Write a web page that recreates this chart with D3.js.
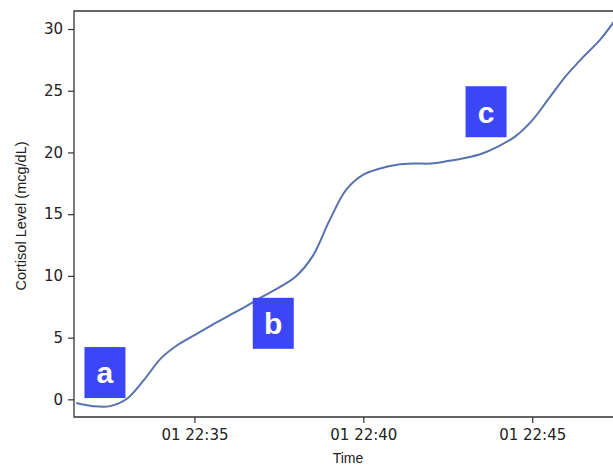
<!DOCTYPE html>
<html>
<head>
<meta charset="utf-8">
<script src="https://cdn.jsdelivr.net/npm/d3@7"></script>
<style>
  html, body { margin: 0; padding: 0; background: #fff; }
  svg { display: block; }
</style>
</head>
<body>
<svg id="chart" width="613" height="467"></svg>
<script>
// ---- data ----
const day = "2024-01-01";
const times = ["22:31:30","22:32:00","22:32:30","22:33:00","22:33:30","22:34:00","22:34:30",
  "22:35:00","22:35:30","22:36:00","22:36:30","22:37:00","22:37:30","22:38:00","22:38:30",
  "22:39:00","22:39:30","22:40:00","22:40:30","22:41:00","22:41:30","22:42:00","22:42:30",
  "22:43:00","22:43:30","22:44:00","22:44:30","22:45:00","22:45:30","22:46:00","22:46:30",
  "22:47:00","22:47:30"];
const cortisol = [-0.3,-0.55,-0.55,0.05,1.55,3.3,4.4,
  5.2,6.0,6.75,7.5,8.3,9.05,9.95,11.6,
  14.5,17.0,18.2,18.7,19.0,19.1,19.1,19.3,
  19.55,19.9,20.5,21.3,22.6,24.4,26.2,27.7,
  29.1,30.9];
const yTicks = [0,5,10,15,20,25,30];
const xTickTimes = ["22:35:00","22:40:00","22:45:00"];
const annoLabels = ["a","b","c"];
const annoTimes = ["22:32:21","22:37:20","22:43:38"];
const annoValues = [2.17,6.16,23.3];
const xDomainTimes = ["22:31:26","22:47:36"];
const yDomain = [-1.43, 31.46];

// ---- setup ----
const parse = d3.utcParse("%Y-%m-%d %H:%M:%S");
const toDate = t => parse(day + " " + t);
const data = times.map((t, i) => ({ t: toDate(t), v: cortisol[i] }));

const svg = d3.select("#chart");
const m = { left: 74, top: 11, right: 620, bottom: 417 };

const x = d3.scaleUtc().domain(xDomainTimes.map(toDate)).range([m.left, m.right]);
const y = d3.scaleLinear().domain(yDomain).range([m.bottom, m.top]);

svg.append("defs").append("clipPath").attr("id", "clip")
  .append("rect").attr("x", m.left).attr("y", m.top)
  .attr("width", m.right - m.left).attr("height", m.bottom - m.top);

const fontTick = "DejaVu Sans, sans-serif";
const axisColor = "#333";

// line
const line = d3.line().x(d => x(d.t)).y(d => y(d.v)).curve(d3.curveCatmullRom.alpha(0.5));
svg.append("path")
  .datum(data)
  .attr("clip-path", "url(#clip)")
  .attr("fill", "none")
  .attr("stroke", "#5872b0")
  .attr("stroke-width", 2)
  .attr("d", line);

// axes
const xAxis = d3.axisBottom(x)
  .tickValues(xTickTimes.map(toDate))
  .tickFormat(d3.utcFormat("%d %H:%M"))
  .tickSizeOuter(0).tickSize(6).tickPadding(6);
const gx = svg.append("g").attr("transform", `translate(0,${m.bottom})`).call(xAxis);

const yAxis = d3.axisLeft(y)
  .tickValues(yTicks)
  .tickSizeOuter(0).tickSize(6).tickPadding(5);
const gy = svg.append("g").attr("transform", `translate(${m.left},0)`).call(yAxis);

[gx, gy].forEach(g => {
  g.select(".domain").remove();
  g.selectAll(".tick line").attr("stroke", axisColor).attr("stroke-width", 1.2);
  g.selectAll(".tick text").attr("fill", "#222")
    .style("font-family", fontTick).style("font-size", "15px");
});

// frame (left, bottom, top)
svg.append("path")
  .attr("d", `M${m.right},${m.top}H${m.left}V${m.bottom}H${m.right}`)
  .attr("fill", "none").attr("stroke", axisColor).attr("stroke-width", 1.3);

// axis labels
svg.append("text")
  .attr("x", 348).attr("y", 463)
  .attr("text-anchor", "middle")
  .style("font-family", "Liberation Sans, Arial, sans-serif").style("font-size", "14px")
  .attr("fill", "#222")
  .text("Time");

svg.append("text")
  .attr("transform", `translate(26,${(m.top + m.bottom) / 2 + 2}) rotate(-90)`)
  .attr("text-anchor", "middle")
  .style("font-family", "Liberation Sans, Arial, sans-serif").style("font-size", "14.5px")
  .attr("fill", "#222")
  .text("Cortisol Level (mcg/dL)");

// annotations
const bw = 41, bh = 51;
const annos = annoLabels.map((l, i) => ({ l, t: toDate(annoTimes[i]), v: annoValues[i] }));
const ga = svg.selectAll(".anno").data(annos).enter().append("g").attr("class", "anno")
  .attr("transform", d => `translate(${x(d.t)},${y(d.v)})`);
ga.append("rect")
  .attr("x", -bw / 2).attr("y", -bh / 2).attr("width", bw).attr("height", bh)
  .attr("fill", "#3b47f6");
ga.append("text")
  .attr("text-anchor", "middle")
  .attr("dy", "0.36em")
  .attr("fill", "#fff")
  .style("font-family", "Liberation Sans, Arial, sans-serif")
  .style("font-weight", "bold")
  .style("font-size", "30px")
  .text(d => d.l);
</script>
</body>
</html>
